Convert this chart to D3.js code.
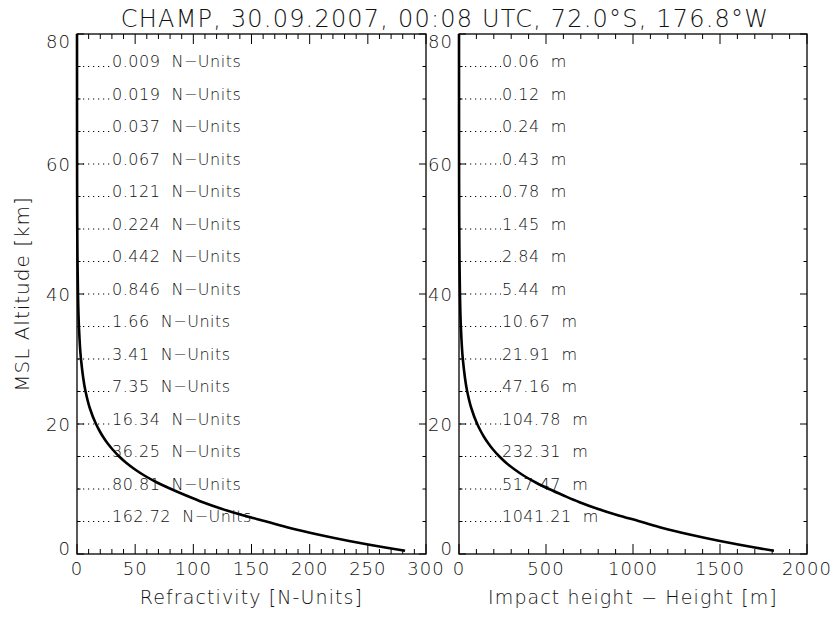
<!DOCTYPE html>
<html>
<head>
<meta charset="utf-8">
<script src="https://cdn.jsdelivr.net/npm/d3@7"></script>
<style>
  html, body { margin: 0; padding: 0; background: #fff; }
  svg { display: block; }
  text { font-family: "DejaVu Sans", sans-serif; font-weight: 200; fill: #111; white-space: pre; }
</style>
</head>
<body>
<svg id="chart" width="835" height="617"></svg>
<script>
// Profile sampled along altitude (km), top to bottom
const altitude = [80, 75, 70, 65, 60, 55, 50, 45, 40, 35, 30, 25, 22.5, 20, 19, 18, 17, 16, 15,
                  14, 13, 12, 11, 10, 9, 8, 7, 6, 5, 4, 3, 2, 1, 0.5];
// Refractivity (N-Units)
const refractivity = [0.004, 0.009, 0.019, 0.037, 0.067, 0.121, 0.224, 0.442, 0.846, 1.66, 3.41, 7.35,
                      10.9, 16.34, 19.2, 22.5, 26.4, 31.0, 36.25, 42.5, 49.9, 58.6, 68.8, 80.81,
                      93.8, 107.6, 123.5, 141.8, 162.72, 183, 207, 234, 265, 282];
// Impact height minus height (m)
const impactOffset = [0.03, 0.06, 0.12, 0.24, 0.43, 0.78, 1.45, 2.84, 5.44, 10.67, 21.91, 47.16,
                      70, 104.78, 123, 144, 169, 198, 232.31, 272, 320, 375, 441, 517.47,
                      601, 689, 791, 908, 1041.21, 1170, 1325, 1500, 1700, 1810];

// Annotated levels and their printed values
const labelAltitudes = [75, 70, 65, 60, 55, 50, 45, 40, 35, 30, 25, 20, 15, 10, 5];
const refractivityLabels = ["0.009", "0.019", "0.037", "0.067", "0.121", "0.224", "0.442", "0.846",
                            "1.66", "3.41", "7.35", "16.34", "36.25", "80.81", "162.72"];
const impactLabels = ["0.06", "0.12", "0.24", "0.43", "0.78", "1.45", "2.84", "5.44",
                      "10.67", "21.91", "47.16", "104.78", "232.31", "517.47", "1041.21"];

// Axis tick values
const altTicks = [0, 20, 40, 60, 80];
const refTicks = [0, 50, 100, 150, 200, 250, 300];
const impTicks = [0, 500, 1000, 1500, 2000];

const titleText = "CHAMP, 30.09.2007, 00:08 UTC, 72.0\u00B0S, 176.8\u00B0W";
const yTitle = "MSL Altitude [km]";
const xTitleLeft = "Refractivity [N-Units]";
const xTitleRight = "Impact height \u2212 Height [m]";

const svg = d3.select("#chart");
const plotTop = 34, plotBottom = 554;

const y = d3.scaleLinear().domain([0, 80]).range([plotBottom, plotTop]);

const panels = [
  { x: d3.scaleLinear().domain([0, 300]).range([77, 426]), values: refractivity,
    ticks: refTicks, minorStep: 10, labels: refractivityLabels, unit: "N\u2212Units",
    title: xTitleLeft, textOffset: 35 },
  { x: d3.scaleLinear().domain([0, 2000]).range([459, 807]), values: impactOffset,
    ticks: impTicks, minorStep: 100, labels: impactLabels, unit: "m",
    title: xTitleRight, textOffset: 43 }
];

const minorAlt = d3.range(0, 80.01, 5);

panels.forEach(p => {
  const [x0, x1] = p.x.range();
  const g = svg.append("g");
  const [d0, d1] = p.x.domain();
  const minorX = d3.range(d0, d1 + p.minorStep / 2, p.minorStep);

  // inward ticks on all four sides
  const tickG = g.append("g").attr("stroke", "#000").attr("stroke-width", 1);
  minorX.forEach(v => {
    const major = p.ticks.includes(v);
    const len = major ? 10 : 5;
    tickG.append("line").attr("x1", p.x(v)).attr("x2", p.x(v)).attr("y1", plotBottom).attr("y2", plotBottom - len);
    tickG.append("line").attr("x1", p.x(v)).attr("x2", p.x(v)).attr("y1", plotTop).attr("y2", plotTop + len);
  });
  minorAlt.forEach(v => {
    const major = altTicks.includes(v);
    const len = major ? 7 : 3.5;
    tickG.append("line").attr("x1", x0).attr("x2", x0 + len).attr("y1", y(v)).attr("y2", y(v));
    tickG.append("line").attr("x1", x1).attr("x2", x1 - len).attr("y1", y(v)).attr("y2", y(v));
  });

  // frame
  g.append("rect").attr("x", x0).attr("y", plotTop).attr("width", x1 - x0).attr("height", plotBottom - plotTop)
    .attr("fill", "none").attr("stroke", "#000").attr("stroke-width", 1.3);

  // x tick labels
  g.selectAll("text.xt").data(p.ticks).join("text")
    .attr("x", d => p.x(d)).attr("y", 575)
    .attr("text-anchor", "middle").attr("font-size", 18).attr("letter-spacing", 1)
    .text(d => d);

  // y tick labels, kept inside the frame's vertical extent
  g.selectAll("text.yt").data(altTicks).join("text")
    .attr("x", x0 - 6).attr("text-anchor", "end").attr("font-size", 18).attr("letter-spacing", 1)
    .attr("y", d => Math.min(plotBottom + 1, Math.max(plotTop + 14, y(d) + 7)))
    .text(d => d);

  // x axis title
  g.append("text").attr("x", (x0 + x1) / 2).attr("y", 604)
    .attr("text-anchor", "middle").attr("font-size", 19).attr("letter-spacing", 1.1)
    .text(p.title);

  // dotted leaders and value annotations
  const ann = g.append("g");
  labelAltitudes.forEach((a, i) => {
    const tx = x0 + p.textOffset;
    ann.append("line").attr("x1", x0 + 1).attr("x2", tx - 1).attr("y1", y(a)).attr("y2", y(a))
      .attr("stroke", "#000").attr("stroke-width", 1.2).attr("stroke-dasharray", "1.2 3.8");
    ann.append("text").attr("x", tx).attr("y", y(a) + 0.5)
      .attr("font-size", 16).attr("letter-spacing", 0.5)
      .text(p.labels[i] + "  " + p.unit);
  });

  // profile curve
  const line = d3.line()
    .x((d, i) => p.x(p.values[i]))
    .y(d => y(d))
    .curve(d3.curveMonotoneY);
  g.append("path").datum(altitude).attr("d", line)
    .attr("fill", "none").attr("stroke", "#000").attr("stroke-width", 2.6)
    .attr("stroke-linejoin", "round");
});

// y axis title
svg.append("text").attr("transform", `translate(29,${(plotTop + plotBottom) / 2}) rotate(-90)`)
  .attr("text-anchor", "middle").attr("font-size", 20).attr("letter-spacing", 1)
  .text(yTitle);

// title
svg.append("text").attr("x", 445).attr("y", 27).attr("text-anchor", "middle")
  .attr("font-size", 24).attr("letter-spacing", 1.2)
  .text(titleText);
</script>
</body>
</html>
